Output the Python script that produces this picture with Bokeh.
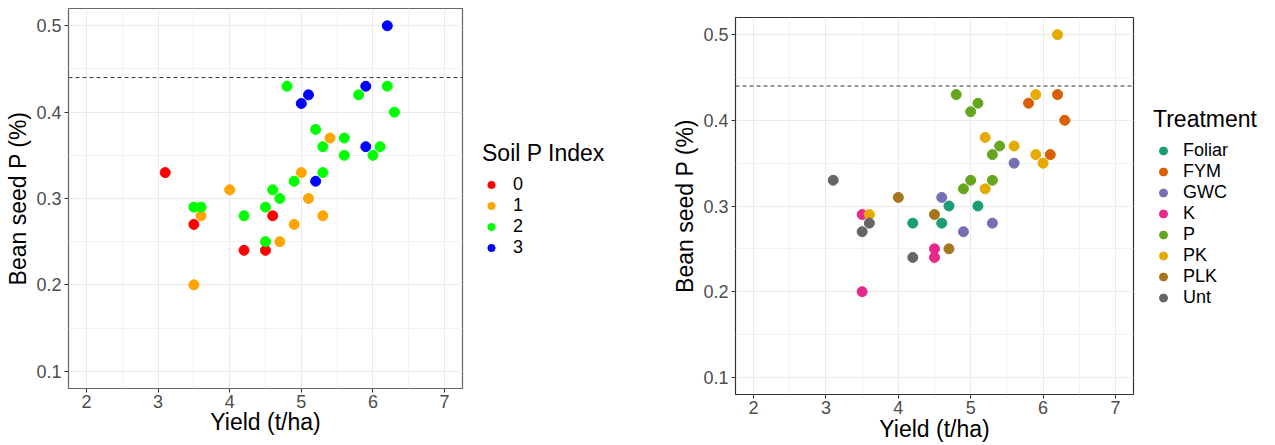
from bokeh.plotting import figure
from bokeh.models import (Legend, LegendItem, Span, FixedTicker, Range1d,
                          ColumnDataSource, CDSView, GroupFilter)
from bokeh.layouts import row, column
from bokeh.embed import file_html
from bokeh.resources import INLINE

# ---------------- data ----------------
yield_t_ha = [3.1, 4.6, 3.5, 4.2, 4.5,
              5.4, 5.0, 4.0, 5.1, 3.6, 5.3, 4.9, 4.7, 3.5,
              4.8, 5.8, 6.2, 6.3, 5.2, 5.6, 5.3, 6.1, 5.6, 6.0, 5.3, 4.9, 4.6, 4.7,
              3.5, 3.6, 4.5, 4.2, 4.5,
              6.2, 5.1, 5.0, 5.9, 5.9, 5.2]
seed_p = [0.33, 0.28, 0.27, 0.24, 0.24,
          0.37, 0.33, 0.31, 0.30, 0.28, 0.28, 0.27, 0.25, 0.20,
          0.43, 0.42, 0.43, 0.40, 0.38, 0.37, 0.36, 0.36, 0.35, 0.35, 0.33, 0.32, 0.31, 0.30,
          0.29, 0.29, 0.29, 0.28, 0.25,
          0.50, 0.42, 0.41, 0.43, 0.36, 0.32]
soil_p_index = ["0", "0", "0", "0", "0",
                "1", "1", "1", "1", "1", "1", "1", "1", "1",
                "2", "2", "2", "2", "2", "2", "2", "2", "2", "2", "2", "2", "2", "2",
                "2", "2", "2", "2", "2",
                "3", "3", "3", "3", "3", "3"]
treatment = ["Unt", "Foliar", "Unt", "Unt", "K",
             "P", "P", "PLK", "Foliar", "Unt", "GWC", "GWC", "PLK", "K",
             "P", "FYM", "FYM", "FYM", "PK", "PK", "P", "FYM", "GWC", "PK", "P", "P", "GWC", "Foliar",
             "K", "PK", "PLK", "Foliar", "K",
             "PK", "P", "P", "PK", "PK", "PK"]

index_levels = ["0", "1", "2", "3"]
index_colors = ["#FF0000", "#FFA500", "#00FF00", "#0000FF"]
treatment_levels = ["Foliar", "FYM", "GWC", "K", "P", "PK", "PLK", "Unt"]
treatment_colors = ["#1B9E77", "#D95F02", "#7570B3", "#E7298A",
                    "#66A61E", "#E6AB02", "#A6761D", "#666666"]

x_ticks = [2, 3, 4, 5, 6, 7]
y_ticks = [0.1, 0.2, 0.3, 0.4, 0.5]
threshold_p = 0.44

x_label = "Yield (t/ha)"
y_label = "Bean seed P (%)"

FONT = "Liberation Sans"
TOTAL_H = 444


def mids(t):
    return [(a + b) / 2 for a, b in zip(t[:-1], t[1:])]


def make_panel(group_col, levels, colors, top, frame_h, left, frame_w, right,
               border_color, title_standoff):
    src = ColumnDataSource(dict(x=yield_t_ha, y=seed_p, g=group_col))
    xr = (x_ticks[0], x_ticks[-1])
    yr = (y_ticks[0], y_ticks[-1])
    xe = (xr[1] - xr[0]) * 0.05
    ye = (yr[1] - yr[0]) * 0.05
    p = figure(width=left + frame_w + right, height=TOTAL_H,
               x_range=Range1d(xr[0] - xe, xr[1] + xe),
               y_range=Range1d(yr[0] - ye, yr[1] + ye),
               output_backend="svg", toolbar_location=None,
               min_border_left=left, min_border_right=right,
               min_border_top=top, min_border_bottom=TOTAL_H - top - frame_h)
    p.background_fill_color = "white"
    p.outline_line_color = border_color
    p.outline_line_width = 1.2

    xt = FixedTicker(ticks=x_ticks, minor_ticks=mids(x_ticks))
    yt = FixedTicker(ticks=y_ticks, minor_ticks=mids(y_ticks))
    p.xaxis.ticker = xt
    p.yaxis.ticker = yt
    p.xgrid.ticker = xt
    p.ygrid.ticker = yt
    p.grid.grid_line_color = "#EBEBEB"
    p.grid.grid_line_width = 1
    p.grid.minor_grid_line_color = "#F2F2F2"
    p.grid.minor_grid_line_width = 1

    for ax in (p.xaxis, p.yaxis):
        ax.axis_line_color = None
        ax.major_tick_line_color = "#333333"
        ax.major_tick_out = 4
        ax.major_tick_in = 0
        ax.minor_tick_line_color = None
        ax.major_label_text_font = FONT
        ax.major_label_text_font_size = "18px"
        ax.major_label_text_color = "#4D4D4D"
        ax.axis_label_text_font = FONT
        ax.axis_label_text_font_size = "23px"
        ax.axis_label_text_font_style = "normal"
        ax.axis_label_text_color = "black"
    p.yaxis.major_label_standoff = 3
    p.yaxis.axis_label_standoff = 2
    p.xaxis.major_label_standoff = 2
    p.xaxis.axis_label_standoff = title_standoff
    p.xaxis.axis_label = x_label
    p.yaxis.axis_label = y_label

    p.add_layout(Span(location=threshold_p, dimension="width",
                      line_color="#333333", line_width=1, line_dash="4 3"))

    for lvl, col in zip(levels, colors):
        view = CDSView(filter=GroupFilter(column_name="g", group=lvl))
        p.scatter("x", "y", source=src, view=view, size=10,
                  fill_color=col, line_color=col)
    return p


def make_legend(group_col, levels, colors, title, width, bottom,
                x, y_bottom, glyph_w, standoff, title_standoff):
    # legend-only figure: its ranges exclude the data, so only the key shows
    src = ColumnDataSource(dict(x=yield_t_ha, y=seed_p, g=group_col))
    f = figure(width=width, height=TOTAL_H, x_range=Range1d(-2, -1),
               y_range=Range1d(-2, -1), x_axis_type=None, y_axis_type=None,
               output_backend="svg", toolbar_location=None,
               min_border_left=0, min_border_top=0,
               min_border_right=0, min_border_bottom=bottom)
    f.outline_line_color = None
    f.background_fill_alpha = 0
    f.border_fill_color = "white"
    items = []
    for lvl, col in zip(levels, colors):
        view = CDSView(filter=GroupFilter(column_name="g", group=lvl))
        r = f.scatter("x", "y", source=src, view=view, size=10,
                      fill_color=col, line_color=col)
        items.append(LegendItem(label=lvl, renderers=[r]))
    leg = Legend(items=items, title=title, location=(x, y_bottom))
    leg.title_text_font = FONT
    leg.title_text_font_size = "23px"
    leg.title_text_font_style = "normal"
    leg.title_text_color = "black"
    leg.title_standoff = title_standoff
    leg.label_text_font = FONT
    leg.label_text_font_size = "18px"
    leg.label_text_line_height = 1.0
    leg.label_text_color = "black"
    leg.glyph_width = glyph_w
    leg.glyph_height = 21
    leg.label_height = 21
    leg.label_standoff = standoff
    leg.spacing = 0
    leg.padding = 0
    leg.margin = 0
    leg.border_line_color = None
    leg.background_fill_alpha = 0
    f.add_layout(leg, "center")
    return f


p1 = make_panel(soil_p_index, index_levels, index_colors,
                top=8, frame_h=380, left=68, frame_w=394, right=2,
                border_color="#666666", title_standoff=-2)
l1 = make_legend(soil_p_index, index_levels, index_colors, "Soil P Index",
                 width=194, bottom=56, x=18, y_bottom=130,
                 glyph_w=18, standoff=13, title_standoff=7)
p2 = make_panel(treatment, treatment_levels, treatment_colors,
                top=17, frame_h=377, left=77, frame_w=398, right=2,
                border_color="#333333", title_standoff=-1)
l2 = make_legend(treatment, treatment_levels, treatment_colors, "Treatment",
                 width=139, bottom=56, x=18, y_bottom=80,
                 glyph_w=20, standoff=10, title_standoff=7)

layout = row(column(p1), column(l1), column(p2), column(l2))
open("out.html", "w").write(file_html(layout, INLINE))
